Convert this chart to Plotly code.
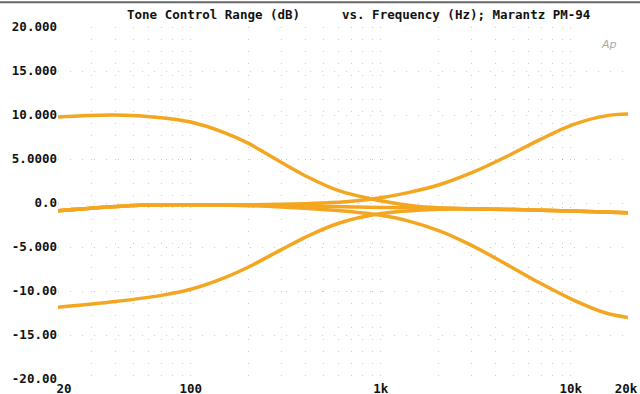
import plotly.graph_objects as go

# ---- data ----
freq_bass = [20, 40, 70, 100, 150, 200, 300, 400, 600, 1000, 1500, 2000, 3000, 5000, 10000, 20000]
bass_boost = [9.77, 10.0, 9.7, 9.2, 8.0, 6.8, 4.6, 3.1, 1.4, 0.25, -0.35, -0.55, -0.65, -0.75, -0.9, -1.1]
bass_cut = [-11.85, -11.2, -10.5, -9.8, -8.5, -7.3, -5.3, -3.9, -2.3, -1.2, -0.85, -0.7, -0.68, -0.75, -0.9, -1.1]

freq_flat = [20, 54, 100, 200, 400, 1000, 2000, 5000, 10000, 20000]
flat = [-0.87, -0.25, -0.2, -0.25, -0.35, -0.5, -0.6, -0.75, -0.9, -1.1]

freq_treble = [20, 54, 100, 200, 300, 500, 700, 1000, 1374, 2050, 3056, 4615, 6885, 10270, 15300, 20000]
treble_boost = [-0.87, -0.25, -0.2, -0.2, -0.15, 0.0, 0.2, 0.6, 1.15, 2.1, 3.5, 5.3, 7.2, 8.9, 9.9, 10.1]
treble_cut = [-0.87, -0.25, -0.2, -0.3, -0.45, -0.75, -1.0, -1.4, -2.0, -3.2, -4.9, -7.0, -9.1, -11.0, -12.5, -13.0]

# label anchors (the end labels sit slightly inside the frame, as in the reference)
x_tickvals = [21.5, 100, 1000, 10000, 19500]
x_ticktext = ["20", "100", "1k", "10k", "20k"]
x_gridvals = [20, 30, 40, 50, 60, 70, 80, 90, 100, 200, 300, 400, 500, 600, 700, 800, 900,
              1000, 2000, 3000, 4000, 5000, 6000, 7000, 8000, 9000, 10000]
y_tickvals = [20, 15, 10, 5, 0, -5, -10, -15, -20]
y_ticktext = ["20.000", "15.000", "10.000", "5.0000", "0.0", "-5.000", "-10.00", "-15.00", "-20.00"]

title_left = "Tone Control Range (dB)"
title_right = "vs. Frequency (Hz); Marantz PM-94"

LINE = "#f4a620"
FONT = "DejaVu Sans Mono"

fig = go.Figure()
series = [
    (freq_flat, flat),
    (freq_treble, treble_boost),
    (freq_treble, treble_cut),
    (freq_bass, bass_boost),
    (freq_bass, bass_cut),
]
for fx, fy in series:
    fig.add_trace(go.Scatter(x=fx, y=fy, mode="lines",
                             line=dict(color=LINE, width=3.5, shape="spline", smoothing=1),
                             showlegend=False, hoverinfo="skip"))

grid = dict(gridcolor="rgba(120,120,120,0.4)", griddash="1px,11px", gridwidth=1)

fig.update_xaxes(type="log", range=[1.30103, 4.30103],
                 tickvals=x_tickvals, ticktext=["<b>" + t + "</b>" for t in x_ticktext],
                 tickfont=dict(family=FONT, size=12.5, color="#111"),
                 ticks="", showline=False, zeroline=False, automargin=False,
                 showgrid=False,
                 minor=dict(tickvals=x_gridvals, showgrid=True, ticks="", **grid))
fig.update_yaxes(range=[-20, 20], tickvals=y_tickvals,
                 ticktext=["<b>" + t + "</b>" for t in y_ticktext],
                 tickfont=dict(family=FONT, size=12.5, color="#111"),
                 ticks="", showline=False, zeroline=False, automargin=False,
                 showgrid=True, **grid)

fig.add_annotation(text="<b>" + title_left + "</b>", xref="paper", yref="paper",
                   x=0.117, y=1.0, xanchor="left", yanchor="bottom", yshift=3,
                   showarrow=False, font=dict(family=FONT, size=12.5, color="#111"))
fig.add_annotation(text="<b>" + title_right + "</b>", xref="paper", yref="paper",
                   x=0.494, y=1.0, xanchor="left", yanchor="bottom", yshift=3,
                   showarrow=False, font=dict(family=FONT, size=12.5, color="#111"))
fig.add_annotation(text="<i>Ap</i>", xref="paper", yref="paper",
                   x=0.985, y=0.975, xanchor="right", yanchor="top",
                   showarrow=False, font=dict(family="DejaVu Sans", size=11, color="#aaa"))

fig.add_shape(type="line", xref="paper", yref="paper", x0=-0.11, x1=1.03,
              y0=1.07, y1=1.07, line=dict(color="#666", width=2))

fig.update_layout(width=640, height=394,
                  margin=dict(l=58, r=12, t=27, b=15),
                  paper_bgcolor="white", plot_bgcolor="white",
                  font=dict(family=FONT, size=12, color="#111"))

fig.write_html("out.html", config={"displayModeBar": False},
               post_script="document.body.style.margin='0';")
